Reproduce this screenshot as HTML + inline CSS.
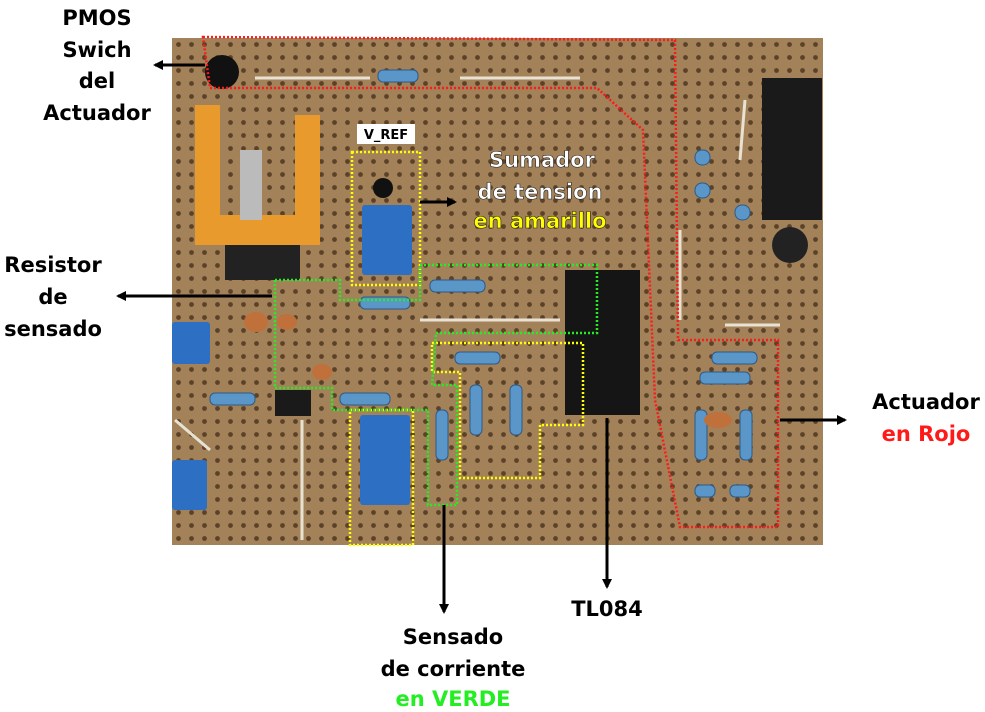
<!DOCTYPE html>
<html><head><meta charset="utf-8"><style>
html,body{margin:0;padding:0;background:#fff;width:985px;height:712px;overflow:hidden}
svg{display:block}
.lbl{font-family:"DejaVu Sans","Liberation Sans",sans-serif;font-weight:bold;font-size:21px;text-anchor:middle}
</style></head><body>
<svg width="985" height="712" viewBox="0 0 985 712">
<defs>
<pattern id="holes" x="172" y="38" width="13" height="13" patternUnits="userSpaceOnUse">
<circle cx="6.5" cy="6.5" r="2.4" fill="#5a4128"/>
</pattern>
<marker id="ah" markerWidth="10" markerHeight="10" refX="8" refY="5" orient="auto" markerUnits="userSpaceOnUse">
<path d="M0,0 L10,5 L0,10 z" fill="#000"/>
</marker>
</defs>
<g>
<rect x="172" y="38" width="651" height="507" fill="#a3825a"/>
<rect x="172" y="38" width="651" height="507" fill="url(#holes)"/>
<g stroke="#e8e2d2" stroke-width="3" fill="none">
<line x1="255" y1="78" x2="370" y2="78"/><line x1="460" y1="78" x2="580" y2="78"/>
<line x1="420" y1="320" x2="560" y2="320"/><line x1="725" y1="325" x2="780" y2="325"/>
<line x1="302" y1="420" x2="302" y2="540"/><line x1="680" y1="230" x2="680" y2="320"/>
<line x1="745" y1="100" x2="740" y2="160"/><line x1="175" y1="420" x2="210" y2="450"/>
</g>
<path d="M195,105 h25 v110 h75 v-100 h25 v130 h-125 z" fill="#e99a2c"/>
<rect x="240" y="150" width="22" height="70" fill="#bbb"/>
<rect x="225" y="245" width="75" height="35" fill="#222"/>
<rect x="762" y="78" width="60" height="142" fill="#1a1a1a"/>
<rect x="565" y="270" width="75" height="145" fill="#151515"/>
<rect x="275" y="390" width="36" height="26" fill="#1a1a1a"/>
<circle cx="222" cy="72" r="17" fill="#111"/>
<circle cx="383" cy="188" r="10" fill="#111"/>
<circle cx="790" cy="245" r="18" fill="#222"/>
<g fill="#2d6fc2">
<rect x="362" y="205" width="50" height="70" rx="3"/><rect x="360" y="415" width="50" height="90" rx="3"/>
<rect x="172" y="322" width="38" height="42" rx="3"/><rect x="172" y="460" width="35" height="50" rx="3"/>
</g>
<g fill="#5b96c8" stroke="#2b5a8a" stroke-width="1">
<rect x="378" y="70" width="40" height="12" rx="5"/><rect x="430" y="280" width="55" height="12" rx="5"/>
<rect x="360" y="297" width="50" height="12" rx="5"/><rect x="455" y="352" width="45" height="12" rx="5"/>
<rect x="340" y="393" width="50" height="12" rx="5"/><rect x="210" y="393" width="45" height="12" rx="5"/>
<rect x="470" y="385" width="12" height="50" rx="5"/><rect x="510" y="385" width="12" height="50" rx="5"/>
<rect x="436" y="410" width="12" height="50" rx="5"/><rect x="712" y="352" width="45" height="12" rx="5"/>
<rect x="700" y="372" width="50" height="12" rx="5"/><rect x="695" y="410" width="12" height="50" rx="5"/>
<rect x="740" y="410" width="12" height="50" rx="5"/><rect x="695" y="485" width="20" height="12" rx="5"/>
<rect x="730" y="485" width="20" height="12" rx="5"/><rect x="695" y="150" width="15" height="15" rx="7"/>
<rect x="695" y="183" width="15" height="15" rx="7"/><rect x="735" y="205" width="15" height="15" rx="7"/>
</g>
<g fill="#c0703a"><ellipse cx="256" cy="322" rx="12" ry="10"/><ellipse cx="287" cy="322" rx="10" ry="8"/><ellipse cx="322" cy="372" rx="10" ry="8"/><ellipse cx="718" cy="420" rx="14" ry="8"/></g>
</g>
<polygon points="203,37 675,40 678,340 778,340 778,527 680,527 655,400 643,130 597,88 210,88" fill="none" stroke="#ff1a1a" stroke-width="2.5" stroke-dasharray="2,2"/>
<g fill="none" stroke="#ffff00" stroke-width="2.5" stroke-dasharray="2,2">
<rect x="352" y="152" width="68" height="133"/>
<rect x="350" y="410" width="63" height="135"/>
<polygon points="432,343 583,343 583,425 540,425 540,478 460,478 460,372 432,372"/>
</g>
<polygon points="275,280 340,280 340,300 420,300 420,265 597,265 597,333 436,333 432,385 457,385 457,505 428,505 428,410 332,410 332,388 275,388" fill="none" stroke="#22ee22" stroke-width="2.5" stroke-dasharray="2,2"/>
<g stroke="#000" stroke-width="3" marker-end="url(#ah)">
<line x1="205" y1="65" x2="155" y2="65"/>
<line x1="272" y1="296" x2="118" y2="296"/>
<line x1="420" y1="202" x2="455" y2="202"/>
<line x1="780" y1="420" x2="845" y2="420"/>
<line x1="444" y1="505" x2="444" y2="612"/>
<line x1="607" y1="418" x2="607" y2="587"/>
</g>
<g class="lbl" fill="#000">
<text><tspan x="97" y="25">PMOS</tspan><tspan x="97" y="57">Swich</tspan><tspan x="97" y="88">del</tspan><tspan x="97" y="120">Actuador</tspan></text>
<text><tspan x="53" y="272">Resistor</tspan><tspan x="53" y="304">de</tspan><tspan x="53" y="336">sensado</tspan></text>
<text><tspan x="926" y="409">Actuador</tspan><tspan x="926" y="441" fill="#ff1a1a">en Rojo</tspan></text>
<text x="607" y="616">TL084</text>
<text><tspan x="453" y="644">Sensado</tspan><tspan x="453" y="676">de corriente</tspan><tspan x="453" y="706" fill="#22ee22">en VERDE</tspan></text>
<text stroke="#222" stroke-width="0.6"><tspan x="542" y="167" fill="#fff">Sumador</tspan><tspan x="540" y="199" fill="#fff">de tension</tspan><tspan x="540" y="228" fill="#ffff00">en amarillo</tspan></text>
</g>
<rect x="357" y="124" width="58" height="20" fill="#fff"/>
<text x="386" y="139" font-family="'DejaVu Sans','Liberation Sans',sans-serif" font-weight="bold" font-size="13" text-anchor="middle">V_REF</text>
</svg>
</body></html>
